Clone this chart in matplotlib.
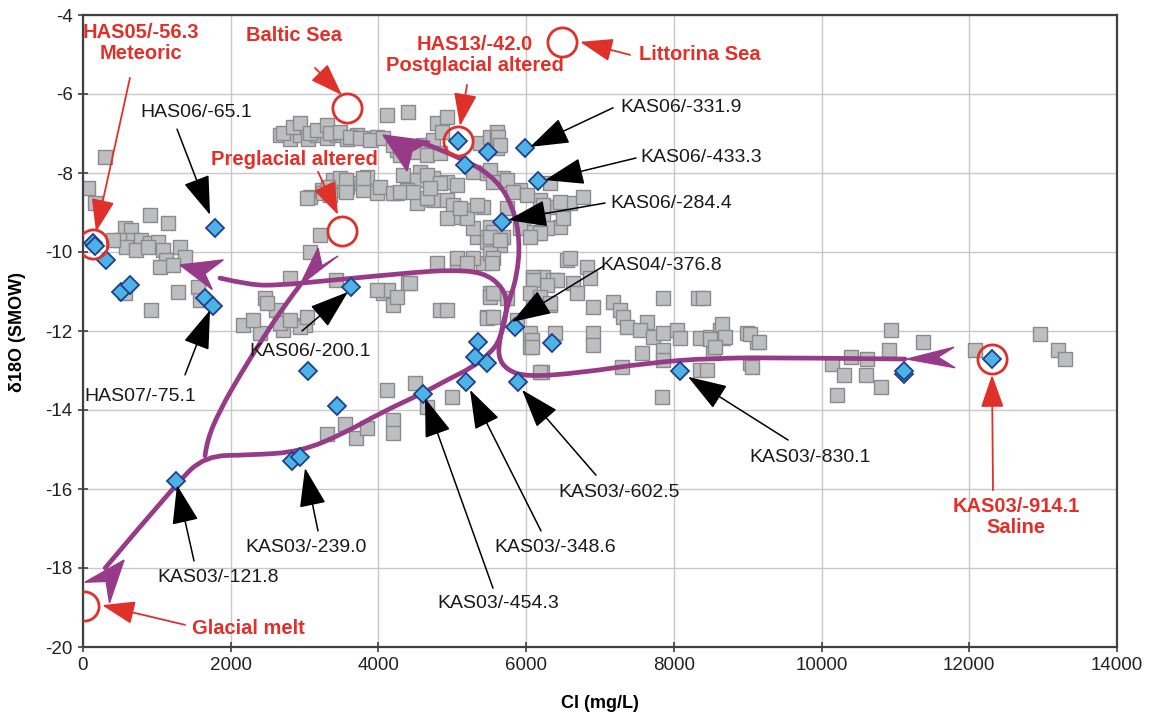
import numpy as np
import matplotlib
matplotlib.use('Agg')
import matplotlib.pyplot as plt
from matplotlib.path import Path
from matplotlib.patches import PathPatch, Polygon

plt.rcParams['font.family'] = ['Liberation Sans', 'DejaVu Sans']
plt.rcParams['axes.unicode_minus'] = False

# grey squares (groundwater samples), Cl mg/L vs d18O
left_cl = [298, 68, 162, 907, 1151, 569, 650, 501, 677, 785, 907, 1016, 582, 718, 880, 1083,
           1313, 1381, 1124, 1043, 1219, 1286, 1557, 921, 569, 1584, 406]
left_d18o = [-7.59, -8.38, -8.76, -9.06, -9.27, -9.39, -9.44, -9.70, -9.70, -9.70, -9.77, -9.75, -9.87, -9.95, -9.87, -9.95,
             -9.87, -10.13, -10.20, -10.38, -10.33, -11.01, -10.89, -11.47, -11.04, -11.22, -9.70]

top_cl = [2667, 2803, 2938, 3047, 3168, 3304, 3439, 3575, 3710, 3845, 3981,
          2708, 2843, 2938, 3074, 3168, 3304, 3344, 3480, 3615, 3751, 3886, 4062,
          4116, 4401, 4252, 4428, 4604, 4739, 4793, 4929, 4861, 5375, 5511, 5606, 5606, 5606, 4197, 5619, 5646,
          4292, 4522, 4658, 4834, 4563, 4739, 4929, 5064, 5281, 5470, 5687, 5511, 5551,
          3074, 3236, 3385, 3520, 3615, 3845, 3981, 4333, 4522, 4658, 4834, 4387, 4252, 4522, 4739, 4929,
          5010, 5199, 5416, 5511, 5335, 5511, 5687, 5958, 6147, 6228, 6188, 5917, 5741, 6323, 6418, 6594, 6770, 6459,
          3250, 3385, 3575, 3791, 4021, 4197,
          5822, 6012, 6228, 6459, 6499, 6283, 6093, 5917, 5551, 5470, 5646, 5281, 5199, 5010, 4929, 5105, 5335, 5741,
          3480, 3791, 3344, 4292, 4468, 4658, 4698, 3209, 3074, 3317, 3561, 3561, 3033]
top_d18o = [-7.05, -7.15, -7.05, -7.15, -7.05, -7.12, -7.05, -7.15, -7.05, -7.12, -7.08,
            -6.99, -6.84, -6.73, -6.99, -6.91, -6.78, -6.99, -6.96, -7.09, -7.11, -7.16, -7.11,
            -6.53, -6.46, -7.42, -7.34, -7.29, -7.16, -6.73, -6.58, -6.96, -7.24, -7.09, -6.96, -7.16, -7.37, -7.29, -7.09, -7.29,
            -7.54, -7.47, -7.54, -7.49, -7.97, -8.13, -8.23, -8.30, -7.97, -8.0, -8.13, -7.92, -8.23,
            -8.61, -8.43, -8.43, -8.18, -8.25, -8.10, -8.51, -8.05, -8.18, -8.05, -8.25, -8.43, -8.51, -8.76, -8.68, -8.68,
            -9.11, -8.94, -8.86, -9.37, -9.62, -9.77, -9.62, -9.27, -9.52, -9.19, -8.68, -8.43, -8.18, -8.25, -8.86, -8.76, -8.61, -9.37,
            -8.51, -8.18, -8.35, -8.43, -8.35, -8.51,
            -8.48, -8.56, -8.81, -8.73, -9.14, -9.39, -9.49, -9.39, -9.49, -9.75, -9.82, -9.39, -9.14, -8.81, -9.14, -8.89, -8.81, -8.89,
            -8.13, -8.13, -8.56, -8.48, -8.48, -8.63, -8.38, -9.57, -10.0, -8.35, -8.18, -8.48, -8.63]

mid_cl = [4793, 5064, 5416, 5511, 6553, 6824, 6228, 6364, 5064, 5281, 5551, 6594,
          5511, 5646, 6188, 6052, 6418, 6283, 6635, 6865, 6689, 5511, 5741, 6093, 6323, 6905, 7176, 7271,
          7312, 7366, 7637, 7853, 8327, 6052, 6052, 6391, 6905, 6905, 7542, 7718, 7853, 8043, 8083, 8354,
          8490, 8625, 8666, 8991, 9126, 7569, 7853, 7853, 8530, 9031, 7298, 6215, 8354, 7840, 5470,
          8652, 8693, 8490, 8557, 9031, 9153, 9058, 8449, 8395]
mid_d18o = [-10.28, -10.28, -10.28, -10.03, -10.20, -10.38, -10.63, -10.71, -10.15, -10.15, -10.15, -10.15,
            -9.62, -9.70, -9.52, -9.62, -10.71, -10.84, -10.78, -10.66, -11.04, -11.04, -11.16, -11.27, -11.34, -11.39, -11.27, -11.47,
            -11.65, -11.90, -11.77, -11.16, -11.16, -12.05, -12.41, -12.05, -12.05, -12.35, -11.97, -12.15, -12.05, -11.97, -12.18, -12.18,
            -12.15, -11.97, -12.18, -12.05, -12.28, -12.56, -12.48, -12.73, -12.56, -12.81, -12.91, -13.04, -12.99, -13.67, -11.65,
            -11.82, -12.15, -12.20, -12.41, -12.08, -12.28, -12.91, -12.99, -11.16]

low_cl = [2803, 2464, 2613, 2166, 2397, 2708, 3006, 3426, 2302, 2667, 2938, 2491, 2803, 3033,
          4062, 4197, 4401, 4834, 5470, 5511, 5199, 5538, 6093, 4116, 4495, 4996, 4658, 4197, 4197,
          6188, 6079, 6079, 4130, 4252, 3981, 4428, 4929, 5551, 5551, 5876, 6093, 6052, 6188, 6323,
          3300, 3550, 3700, 3850]
low_d18o = [-10.66, -11.16, -11.47, -11.85, -12.05, -11.97, -11.85, -10.71, -11.72, -11.80, -11.90, -11.29, -11.72, -11.65,
            -11.04, -11.34, -10.78, -11.47, -11.67, -11.14, -10.28, -10.28, -10.63, -13.49, -13.32, -13.67, -13.92, -14.25, -14.58,
            -13.04, -12.23, -12.41, -10.96, -11.14, -10.96, -10.78, -11.47, -11.04, -11.65, -11.72, -10.71, -11.04, -11.14, -11.29,
            -14.6, -14.35, -14.7, -14.45]

right_cl = [10141, 10399, 10615, 10304, 10602, 10805, 10209, 10940, 11374, 10913, 12078, 12958, 13202, 13296]
right_d18o = [-12.84, -12.66, -12.71, -13.11, -13.11, -13.42, -13.62, -11.97, -12.28, -12.48, -12.48, -12.08, -12.48, -12.71]

# blue diamonds (labelled samples)
dia_cl = [135, 162, 310, 515, 630, 1790, 1655, 1760, 3630, 3050, 3440, 2830, 2940, 1260, 4600, 5185, 5890,
          5350, 5470, 5310, 5850, 6350, 8080, 11120, 11110, 12310, 5080, 5480, 5170, 5985, 6160, 5670]
dia_d18o = [-9.77, -9.85, -10.2, -11.0, -10.84, -9.39, -11.16, -11.37, -10.89, -13.0, -13.9, -15.3, -15.2, -15.8, -13.6, -13.3, -13.3,
            -12.28, -12.8, -12.66, -11.9, -12.3, -13.0, -13.1, -13.0, -12.7, -7.19, -7.47, -7.8, -7.37, -8.2, -9.24]

# end-member circles
em_cl = [140, 3575, 3510, 5080, 6485, 12310, 10]
em_d18o = [-9.8, -6.35, -9.47, -7.2, -4.68, -12.7, -18.97]

# black sample labels: text, text position, arrow tail, arrow head
blk_text = ['HAS06/-65.1', 'KAS06/-331.9', 'KAS06/-433.3', 'KAS06/-284.4', 'KAS04/-376.8', 'KAS06/-200.1',
            'HAS07/-75.1', 'KAS03/-830.1', 'KAS03/-602.5', 'KAS03/-348.6', 'KAS03/-239.0', 'KAS03/-121.8', 'KAS03/-454.3']
blk_pos = [(1530, -6.46), (8097, -6.33), (8368, -7.62), (7961, -8.78), (7826, -10.35), (3074, -12.51),
           (772, -13.67), (9844, -15.19), (7257, -16.08), (6391, -17.47), (3019, -17.49), (1828, -18.25), (5619, -18.89)]
blk_tail = [(1273, -6.89), (7176, -6.35), (7488, -7.62), (7068, -8.76), (7054, -10.35), (2965, -12.0),
            (1381, -13.11), (9546, -14.76), (6946, -15.65), (6201, -17.06), (3182, -17.06), (1503, -17.82), (5551, -18.51)]
blk_head = [(1720, -9.06), (6052, -7.34), (6255, -8.18), (5755, -9.19), (5809, -11.77), (3588, -11.01),
            (1720, -11.47), (8192, -13.16), (5944, -13.49), (5240, -13.49), (3006, -15.47), (1273, -15.9), (4631, -13.70)]

# red end-member labels
red_text = ['HAS05/-56.3\nMeteoric', 'Baltic Sea', 'HAS13/-42.0\nPostglacial altered', 'Littorina Sea',
            'Preglacial altered', 'KAS03/-914.1\nSaline', 'Glacial melt']
red_pos = [(785, -4.71), (2857, -4.53), (5308, -5.01), (8354, -5.01), (2857, -7.67), (12633, -16.71), (2234, -19.52)]
red_tail = [(636, -5.59), (3141, -5.34), (5199, -5.77), (7407, -5.01), (3182, -7.97), (12321, -16.03), (1381, -19.44)]
red_head = [(176, -9.49), (3507, -6.03), (5105, -6.81), (6729, -4.68), (3453, -9.06), (12308, -13.11), (257, -18.94)]

# purple evolution curves (guide points)
curve_a_cl = [300, 1259, 1652, 2261, 2938, 3547, 4021, 4604, 4929, 5281, 5511, 5646, 5755, 5687, 5416, 4969, 4522,
              3385, 2667, 2261, 1855]
curve_a_d18o = [-18.0, -15.87, -15.16, -15.14, -15.06, -14.58, -14.08, -13.57, -13.24, -12.91, -12.56, -12.23, -11.39,
                -10.89, -10.51, -10.46, -10.51, -10.71, -10.84, -10.84, -10.66]
curve_b_cl = [2938, 2735, 2464, 2126, 1855, 1679, 1652]
curve_b_d18o = [-10.84, -11.34, -12.1, -13.11, -14.0, -14.76, -15.16]
curve_c_cl = [11130, 9708, 8530, 7637, 6729, 6012, 5741, 5619, 5646, 5741, 5876, 5917, 5822, 5606, 5199, 4604]
curve_c_d18o = [-12.71, -12.68, -12.68, -12.81, -13.06, -13.16, -12.99, -12.66, -12.15, -11.39, -10.63, -9.70,
                -8.86, -8.18, -7.67, -7.24]

# purple arrowheads (tip, prong, notch, prong)
head_left = [(1313, -10.33), (1900, -10.2), (1650, -10.55), (1750, -10.95)]
head_up = [(4062, -7.04), (4700, -7.2), (4455, -7.45), (4387, -7.95)]
head_saline = [(11157, -12.71), (11793, -12.41), (11577, -12.66), (11807, -12.93)]
head_pregl = [(2938, -10.84), (3182, -9.9), (3236, -10.35), (3453, -10.1)]
head_glacial = [(555, -17.80), (359, -18.88), (313, -18.34), (26, -18.36)]


def smooth_path(xs, ys):
    pts = list(zip(xs, ys))
    verts = [pts[0]]
    codes = [Path.MOVETO]
    for i in range(1, len(pts) - 1):
        if i == len(pts) - 2:
            end = pts[-1]
        else:
            end = ((pts[i][0] + pts[i + 1][0]) / 2, (pts[i][1] + pts[i + 1][1]) / 2)
        verts += [pts[i], end]
        codes += [Path.CURVE3, Path.CURVE3]
    return Path(verts, codes)


fig = plt.figure(figsize=(11.57, 7.2), dpi=100)
ax = fig.add_axes([83 / 1157, 1 - 647 / 720, 1034 / 1157, 632 / 720])

ax.set_xlim(0, 14000)
ax.set_ylim(-20, -4)
ax.set_xticks(np.arange(0, 14001, 2000))
ax.set_yticks(np.arange(-20, -3, 2))
ax.grid(True, color='#c8c8c8', lw=1.0, zorder=0)
ax.set_axisbelow(True)
for s in ax.spines.values():
    s.set_color('#404040')
    s.set_linewidth(1.6)
ax.tick_params(direction='inout', length=7, width=1.2, color='#404040', labelsize=13.5, labelcolor='#222222', pad=4)

sq_style = dict(ls='none', marker='s', ms=10.5, mfc='#bdbec0', mec='#8a8a8c', mew=1.0, zorder=2)
for xs, ys in [(left_cl, left_d18o), (top_cl, top_d18o), (mid_cl, mid_d18o), (low_cl, low_d18o), (right_cl, right_d18o)]:
    ax.plot(xs, ys, **sq_style)

purple = '#973a87'
for xs, ys in [(curve_a_cl, curve_a_d18o), (curve_b_cl, curve_b_d18o), (curve_c_cl, curve_c_d18o)]:
    ax.add_patch(PathPatch(smooth_path(xs, ys), fill=False, ec=purple, lw=3.4, zorder=3, capstyle='round'))
for h in [head_left, head_up, head_saline, head_pregl, head_glacial]:
    ax.add_patch(Polygon(h, closed=True, fc=purple, ec=purple, lw=1, zorder=3))

ax.plot(dia_cl, dia_d18o, ls='none', marker='D', ms=9, mfc='#4db3e6', mec='#1f3f8a', mew=1.3, zorder=5)
ax.plot(em_cl, em_d18o, ls='none', marker='o', ms=21, mfc='none', mec='#e0302a', mew=2, zorder=6)

for t, p, a, b in zip(blk_text, blk_pos, blk_tail, blk_head):
    ax.text(p[0], p[1], t, fontsize=14, color='#1a1a1a', ha='center', va='center', zorder=7)
    ax.annotate('', xy=b, xytext=a,
                arrowprops=dict(arrowstyle='-|>,head_length=1.9,head_width=0.65', color='black', lw=1.1,
                                shrinkA=0, shrinkB=0, mutation_scale=13), zorder=7)

for t, p, a, b in zip(red_text, red_pos, red_tail, red_head):
    ax.text(p[0], p[1], t, fontsize=14.5, fontweight='bold', color='#e0302a', ha='center', va='center',
            linespacing=1.1, zorder=7)
    ax.annotate('', xy=b, xytext=a,
                arrowprops=dict(arrowstyle='-|>,head_length=1.7,head_width=0.6', color='#e0302a', lw=1.3,
                                shrinkA=0, shrinkB=0, mutation_scale=12), zorder=7)

fig.text(600 / 1157, 1 - 703 / 720, 'Cl (mg/L)', fontsize=13, fontweight='bold', ha='center', va='center')
fig.text(18 / 1157, 1 - 332 / 720, 'δ18O (SMOW)', fontsize=13, fontweight='bold', ha='center', va='center',
         rotation=90)

fig.savefig('out.png', dpi=100)
